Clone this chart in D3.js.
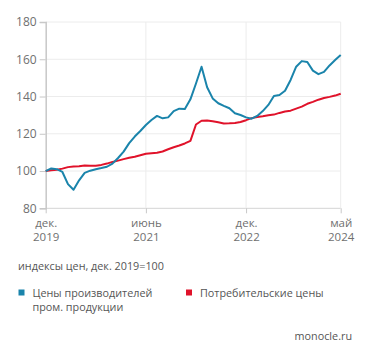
<!DOCTYPE html>
<html><head><meta charset="utf-8">
<script src="https://cdn.jsdelivr.net/npm/d3@7/dist/d3.min.js"></script>
<style>
body{margin:0;background:#fff;}
svg text{font-family:"Open Sans","Noto Sans",sans-serif;}
</style></head>
<body>
<svg id="c" width="371" height="357"></svg>
<script>
// months since Dec 2019 (index 0 = Dec 2019, 53 = May 2024)
const ppi = [100,101.4,101,99.5,93,90,95,99,100.2,101,101.6,102.3,104,107,110.4,115,118.5,121.5,124.7,127.4,129.6,128.3,128.8,132.2,133.5,133.3,138.5,147,156,145,139,136.4,135,133.7,131,130.1,128.8,128.1,129.6,132.2,135.5,140.3,140.8,143.1,148.9,156,159,158.5,153.9,152,153.2,156.7,159.6,162.3];
const cpi = [100,100.4,100.7,101.3,102.1,102.4,102.6,103.0,102.9,102.9,103.3,104.0,104.9,105.6,106.4,107.1,107.7,108.5,109.3,109.6,109.8,110.5,111.7,112.8,113.7,114.8,116.2,125.0,127.0,127.1,126.7,126.2,125.5,125.6,125.8,126.3,127.3,128.4,129.0,129.4,129.9,130.3,131.2,132.0,132.4,133.5,134.6,136.1,137.1,138.3,139.2,139.8,140.5,141.5];
const yTicks = [80,100,120,140,160,180];
const xTickMonths = [0,18,36,53];
const xTickLabels = [["дек.","2019"],["июнь","2021"],["дек.","2022"],["май","2024"]];
const seriesNames = ["Цены производителей|пром. продукции","Потребительские цены"];
const colors = ["#1a84ab","#e0122a"];
const subtitle = "индексы цен, дек. 2019=100";
const source = "monocle.ru";

const svg = d3.select("#c");
const x = d3.scaleLinear().domain([0,53]).range([45.7,340.7]);
const y = d3.scaleLinear().domain([80,180]).range([208.3,22]);

// horizontal grid
svg.append("g").selectAll("line").data(yTicks).join("line")
  .attr("x1",x(0)).attr("x2",x(53)).attr("y1",d=>y(d)).attr("y2",d=>y(d))
  .attr("stroke",d=>d===80?"#d4d4d4":"#ececec").attr("stroke-width",1);
// vertical grid
svg.append("g").selectAll("line").data(xTickMonths.slice(1)).join("line")
  .attr("x1",d=>x(d)).attr("x2",d=>x(d)).attr("y1",y(180)).attr("y2",y(80))
  .attr("stroke","#ececec").attr("stroke-width",1);

// y axis
const ya = svg.append("g").attr("transform",`translate(${x(0)},0)`)
  .call(d3.axisLeft(y).tickValues(yTicks).tickSize(6).tickPadding(3));
ya.select(".domain").attr("stroke","#c8c8c8").attr("stroke-width",1.5);
ya.selectAll(".tick line").attr("stroke","#c8c8c8");
ya.selectAll(".tick text").attr("fill","#707070").attr("font-size",12);

// x axis
const xa = svg.append("g").attr("transform",`translate(0,${y(80)})`)
  .call(d3.axisBottom(x).tickValues(xTickMonths).tickSize(5).tickFormat(""));
xa.select(".domain").remove();
xa.selectAll(".tick line").attr("stroke","#c8c8c8");
xa.selectAll(".tick").each(function(d,i){
  const g = d3.select(this);
  g.append("text").attr("fill","#707070").attr("font-size",11.5).attr("text-anchor","middle")
    .attr("y",19).text(xTickLabels[i][0]);
  g.append("text").attr("fill","#707070").attr("font-size",11.5).attr("text-anchor","middle")
    .attr("y",33).text(xTickLabels[i][1]);
});

const line = d3.line().x((d,i)=>x(i)).y(d=>y(d));
svg.append("path").datum(cpi).attr("d",line).attr("fill","none").attr("stroke",colors[1]).attr("stroke-width",2).attr("stroke-linejoin","round");
svg.append("path").datum(ppi).attr("d",line).attr("fill","none").attr("stroke",colors[0]).attr("stroke-width",2).attr("stroke-linejoin","round");

svg.append("text").attr("x",18).attr("y",269.5).attr("fill","#555").attr("font-size",10.8).text(subtitle);

// legend
const lx = [18.5,186];
seriesNames.forEach((n,i)=>{
  svg.append("rect").attr("x",lx[i]).attr("y",289.5).attr("width",6).attr("height",6).attr("fill",colors[i]);
  n.split("|").forEach((s,j)=>svg.append("text").attr("fill","#555").attr("font-size",10.8)
    .attr("x",lx[i]+14).attr("y",297+j*13.5).text(s));
});

svg.append("text").attr("x",352).attr("y",339.5).attr("text-anchor","end").attr("fill","#555").attr("font-size",10.8).text(source);
</script>
</body></html>
